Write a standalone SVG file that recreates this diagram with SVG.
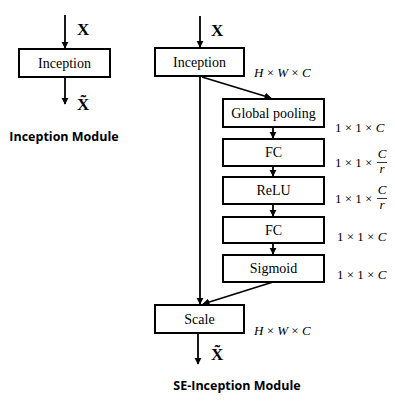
<svg xmlns="http://www.w3.org/2000/svg" width="395" height="405" viewBox="0 0 395 405">
<style>
.box{fill:#fff;stroke:#000;stroke-width:2}
.lbl{font-family:"Liberation Serif","Times New Roman",serif;font-size:14px;text-anchor:middle;fill:#000}
.x{font-family:"Liberation Serif","Times New Roman",serif;font-size:17px;font-weight:bold;fill:#000}
.dim{font-family:"Liberation Serif","Times New Roman",serif;font-size:13px;fill:#000}
.it{font-style:italic}
.title{font-family:"Open Sans","Liberation Sans",sans-serif;font-size:12.5px;font-weight:bold;text-anchor:middle;fill:#000}
.ln{stroke:#000;stroke-width:1.8;fill:none}
</style>
<defs>
<marker id="ah" viewBox="0 0 10 10" refX="9" refY="5" markerWidth="4" markerHeight="4" orient="auto" markerUnits="strokeWidth">
<path d="M0,0 L10,5 L0,10 z" fill="#000"/>
</marker>
</defs>
<g id="connectors">
<line class="ln" x1="65" y1="15" x2="65" y2="48" marker-end="url(#ah)"/>
<line class="ln" x1="65" y1="77" x2="65" y2="104" marker-end="url(#ah)"/>
<line class="ln" x1="200" y1="16" x2="200" y2="47" marker-end="url(#ah)"/>
<line class="ln" x1="202" y1="77" x2="271" y2="98" marker-end="url(#ah)"/>
<line class="ln" x1="273" y1="127" x2="273" y2="138" marker-end="url(#ah)"/>
<line class="ln" x1="273" y1="166" x2="273" y2="176" marker-end="url(#ah)"/>
<line class="ln" x1="273" y1="204" x2="273" y2="216" marker-end="url(#ah)"/>
<line class="ln" x1="273" y1="243" x2="273" y2="254" marker-end="url(#ah)"/>
<line class="ln" x1="200" y1="77" x2="200" y2="304" marker-end="url(#ah)"/>
<line class="ln" x1="273" y1="282" x2="203" y2="304" marker-end="url(#ah)"/>
<line class="ln" x1="198" y1="334" x2="198" y2="364" marker-end="url(#ah)"/>
</g>
<g id="left-inception">
<rect class="box" x="19" y="49" width="91" height="28"/>
<text class="lbl" x="64.5" y="68">Inception</text>
</g>
<text class="x" x="77" y="35">X</text>
<text class="x" x="77" y="110">X&#x303;</text>
<text class="title" x="64" y="141">Inception Module</text>
<g id="inception">
<rect class="box" x="155" y="48" width="89" height="28"/>
<text class="lbl" x="199.5" y="67">Inception</text>
</g>
<text class="x" x="211" y="36">X</text>
<text class="dim" x="254" y="77"><tspan class="it">H</tspan> × <tspan class="it">W</tspan> × <tspan class="it">C</tspan></text>
<g id="global-pooling">
<rect class="box" x="223" y="99" width="101" height="28"/>
<text class="lbl" x="273.5" y="118">Global pooling</text>
</g>
<text class="dim" x="335" y="132">1 × 1 × <tspan class="it">C</tspan></text>
<g id="fc1">
<rect class="box" x="223" y="139" width="101" height="27"/>
<text class="lbl" x="273.5" y="157">FC</text>
</g>
<text class="dim" x="335" y="167">1 × 1 ×</text>
<text class="dim it" x="382" y="158" text-anchor="middle">C</text>
<line x1="377" y1="162.5" x2="387" y2="162.5" stroke="#000" stroke-width="0.8"/>
<text class="dim it" x="382" y="173" text-anchor="middle">r</text>
<g id="relu">
<rect class="box" x="223" y="177" width="101" height="27"/>
<text class="lbl" x="273.5" y="195">ReLU</text>
</g>
<text class="dim" x="335" y="203">1 × 1 ×</text>
<text class="dim it" x="382" y="194" text-anchor="middle">C</text>
<line x1="377" y1="198.5" x2="387" y2="198.5" stroke="#000" stroke-width="0.8"/>
<text class="dim it" x="382" y="209" text-anchor="middle">r</text>
<g id="fc2">
<rect class="box" x="223" y="217" width="101" height="26"/>
<text class="lbl" x="273.5" y="235">FC</text>
</g>
<text class="dim" x="337" y="241">1 × 1 × <tspan class="it">C</tspan></text>
<g id="sigmoid">
<rect class="box" x="223" y="255" width="101" height="27"/>
<text class="lbl" x="273.5" y="273">Sigmoid</text>
</g>
<text class="dim" x="337" y="279">1 × 1 × <tspan class="it">C</tspan></text>
<g id="scale">
<rect class="box" x="155" y="305" width="89" height="28"/>
<text class="lbl" x="199.5" y="324">Scale</text>
</g>
<text class="dim" x="254" y="335"><tspan class="it">H</tspan> × <tspan class="it">W</tspan> × <tspan class="it">C</tspan></text>
<text class="x" x="211" y="360">X&#x303;</text>
<text class="title" x="237" y="390">SE-Inception Module</text>
</svg>
